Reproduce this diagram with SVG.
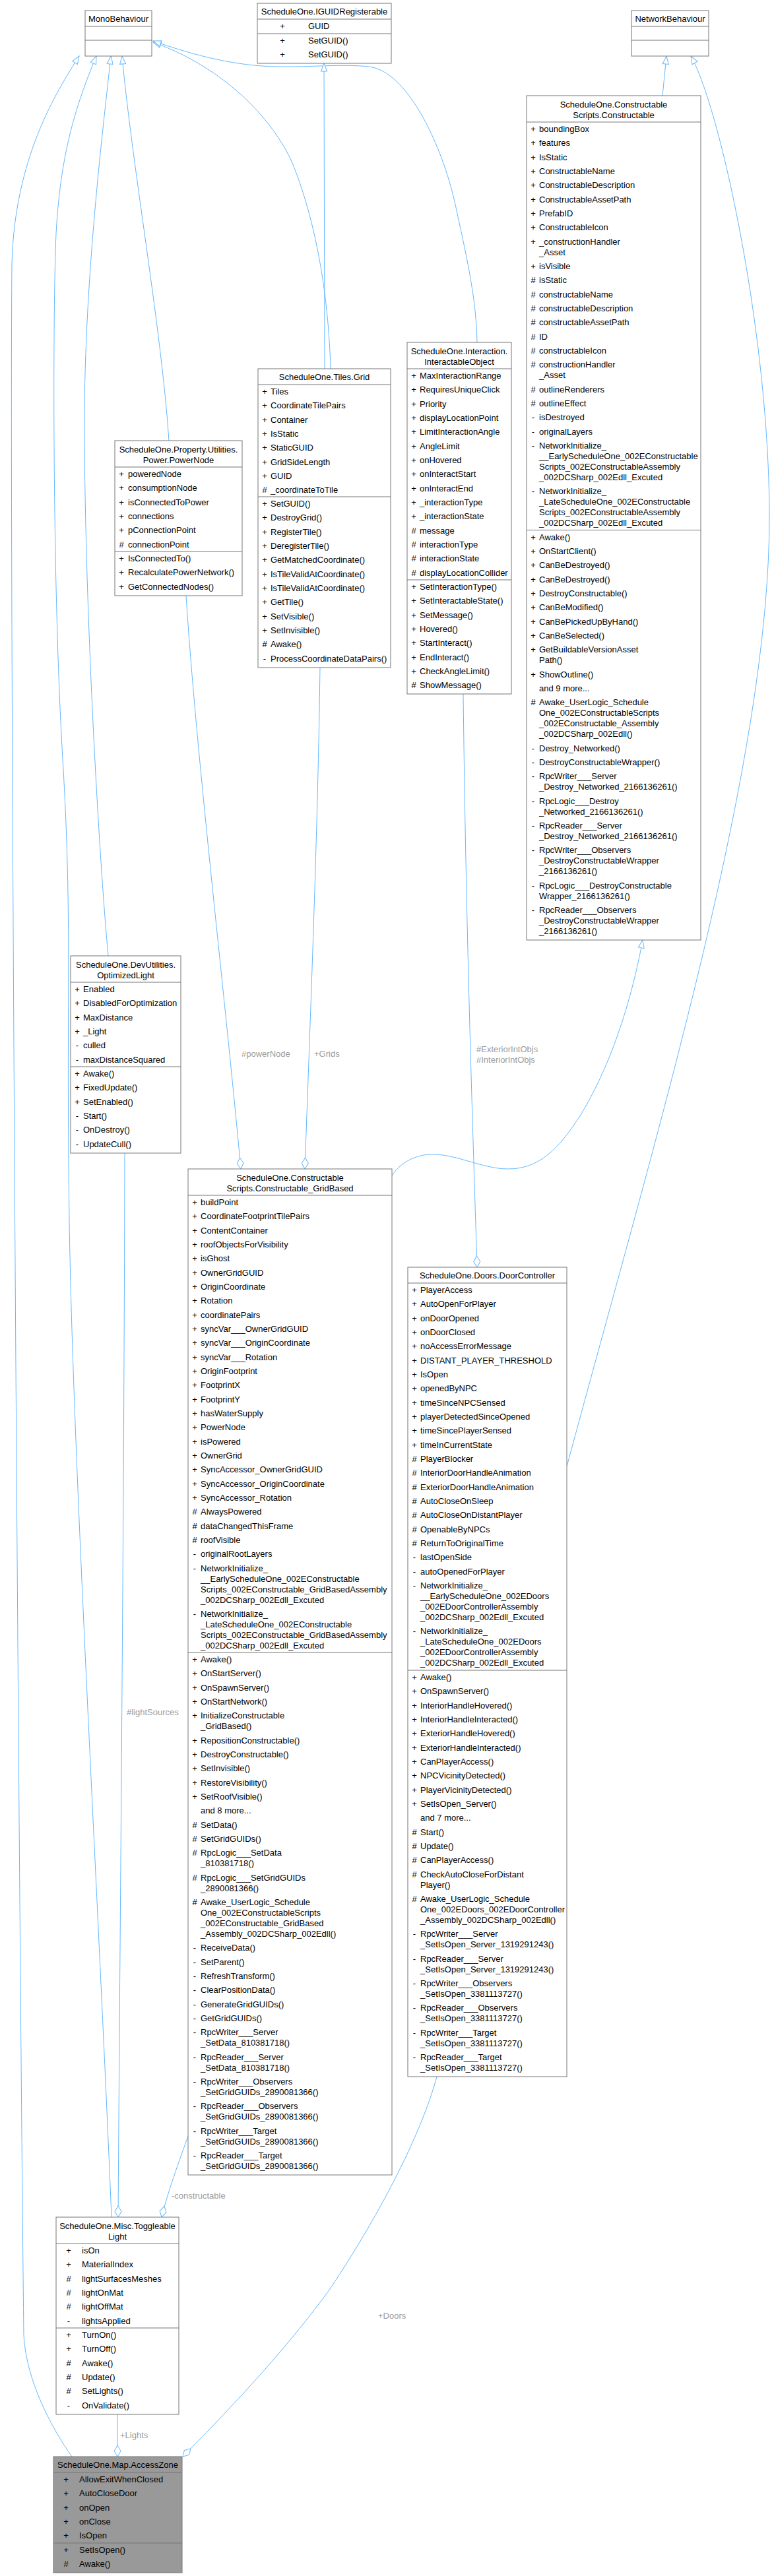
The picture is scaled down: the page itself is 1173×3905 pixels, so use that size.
<svg xmlns="http://www.w3.org/2000/svg" width="1173" height="3905" viewBox="0 0 1173 3905">
<style>
text{font-family:"Liberation Sans",Arial,Helvetica,sans-serif;font-size:13px;fill:#000}
.t,.s{text-anchor:middle}
.b{fill:#fff;stroke:#777;stroke-width:1}
.f{fill:#999;stroke:#777;stroke-width:1}
.ln{stroke:#777;stroke-width:1;fill:none}
.e{fill:none;stroke:#63b8ff;stroke-width:1}
.i{marker-start:url(#tri)}
.a{marker-end:url(#dia)}
.l{fill:#9c9c9c}
</style>
<defs>
<marker id="tri" markerUnits="userSpaceOnUse" markerWidth="14" markerHeight="11" refX="1" refY="5.5" orient="auto" overflow="visible"><path d="M1,5.5 L13,1 L13,10 Z" fill="#fff" stroke="#63b8ff"/></marker>
<marker id="dia" markerUnits="userSpaceOnUse" markerWidth="19" markerHeight="11" refX="18" refY="5.5" orient="auto" overflow="visible"><path d="M1,5.5 L9.5,0.5 L18,5.5 L9.5,10.5 Z" fill="#fff" stroke="#63b8ff"/></marker>
</defs>
<rect width="1173" height="3905" fill="#fff"/>

<g id="edges">
<path class="e i" d="M120,85 C85,140 22,240 18,400 C14,900 30,3000 36,3540 C40,3610 78,3680 109,3724"/>
<path class="e i" d="M146,85 C115,160 88,240 84,380 S80,900 95,1150 S100,1500 105,1850 S150,2900 169,3361"/>
<path class="e i" d="M168,85 C158,180 130,400 128,620 C127,900 150,1300 164,1449"/>
<path class="e i" d="M185,85 C200,250 245,500 256,668"/>
<path class="e i" d="M232,64 C320,95 400,160 440,240 C470,310 497,420 501,559"/>
<path class="e i" d="M232,62 C300,86 360,100 420,101 C470,102 530,96 565,102 C620,115 670,220 690,310 C705,380 722,450 723,519"/>
<path class="e i" d="M491,96 L492,559"/>
<path class="e i" d="M1010,85 L1004,145"/>
<path class="e i" d="M1047,85 C1090,160 1165,500 1166,780 C1167,1150 1000,1700 859,2223"/>
<path class="e i" d="M974,1425 C962,1490 935,1600 880,1690 C845,1745 815,1772 770,1772 C730,1772 690,1748 650,1750 C625,1752 605,1765 594,1782"/>
<path class="e a" d="M702,1052 C706,1400 716,1700 723,1921"/>
<path class="e a" d="M282,903 C298,1150 340,1500 365,1772"/>
<path class="e a" d="M485,1012 C482,1250 470,1550 462,1772"/>
<path class="e a" d="M189,1748 C188,2300 182,2900 179,3361"/>
<path class="e a" d="M285,3238 C272,3275 255,3320 245,3361"/>
<path class="e a" d="M178,3660 L178,3724"/>
<path class="e a" d="M662,3148 C640,3230 580,3350 500,3470 C420,3580 320,3680 277,3724"/>
<text class="l" x="366" y="1602">#powerNode</text>
<text class="l" x="476" y="1602">+Grids</text>
<text class="l" x="722" y="1595">#ExteriorIntObjs</text>
<text class="l" x="722" y="1611">#InteriorIntObjs</text>
<text class="l" x="192" y="2600">#lightSources</text>
<text class="l" x="260" y="3333">-constructable</text>
<text class="l" x="182" y="3696">+Lights</text>
<text class="l" x="573" y="3515">+Doors</text>
</g>

<g id="MonoBehaviour">
<rect class="b" x="129" y="16" width="101" height="69"/>
<path class="ln" d="M129,40 H230 M129,61 H230"/>
<text class="t" x="179.5" y="32.5">MonoBehaviour</text>
</g>

<g id="NetworkBehaviour">
<rect class="b" x="957" y="16" width="117" height="69"/>
<path class="ln" d="M957,40 H1074 M957,61 H1074"/>
<text class="t" x="1015.5" y="32.5">NetworkBehaviour</text>
</g>

<g id="IGUIDRegisterable">
<rect class="b" x="390" y="5" width="203" height="91"/>
<path class="ln" d="M390,29 H593 M390,51 H593"/>
<text class="t" x="491.5" y="21.5">ScheduleOne.IGUIDRegisterable</text>
<text class="s" x="428" y="43.5">+</text><text x="467" y="43.5">GUID</text>
<text class="s" x="428" y="65.5">+</text><text x="467" y="65.5">SetGUID()</text>
<text class="s" x="428" y="86.5">+</text><text x="467" y="86.5">SetGUID()</text>
</g>

<g id="Constructable">
<rect class="b" x="798" y="145" width="264" height="1280"/>
<path class="ln" d="M798,185 H1062 M798,803.6 H1062"/>
<text class="t" x="930" y="162.5">ScheduleOne.Constructable</text>
<text class="t" x="930" y="178.5">Scripts.Constructable</text>
<text class="s" x="808" y="200">+</text><text x="817" y="200">boundingBox</text>
<text class="s" x="808" y="221.3">+</text><text x="817" y="221.3">features</text>
<text class="s" x="808" y="242.7">+</text><text x="817" y="242.7">IsStatic</text>
<text class="s" x="808" y="264">+</text><text x="817" y="264">ConstructableName</text>
<text class="s" x="808" y="285.3">+</text><text x="817" y="285.3">ConstructableDescription</text>
<text class="s" x="808" y="306.7">+</text><text x="817" y="306.7">ConstructableAssetPath</text>
<text class="s" x="808" y="328">+</text><text x="817" y="328">PrefabID</text>
<text class="s" x="808" y="349.3">+</text><text x="817" y="349.3">ConstructableIcon</text>
<text class="s" x="808" y="370.7">+</text><text x="817" y="370.7">_constructionHandler<tspan x="817" dy="16">_Asset</tspan></text>
<text class="s" x="808" y="408">+</text><text x="817" y="408">isVisible</text>
<text class="s" x="808" y="429.3">#</text><text x="817" y="429.3">isStatic</text>
<text class="s" x="808" y="450.7">#</text><text x="817" y="450.7">constructableName</text>
<text class="s" x="808" y="472">#</text><text x="817" y="472">constructableDescription</text>
<text class="s" x="808" y="493.3">#</text><text x="817" y="493.3">constructableAssetPath</text>
<text class="s" x="808" y="514.7">#</text><text x="817" y="514.7">ID</text>
<text class="s" x="808" y="536">#</text><text x="817" y="536">constructableIcon</text>
<text class="s" x="808" y="557.3">#</text><text x="817" y="557.3">constructionHandler<tspan x="817" dy="16">_Asset</tspan></text>
<text class="s" x="808" y="594.7">#</text><text x="817" y="594.7">outlineRenderers</text>
<text class="s" x="808" y="616">#</text><text x="817" y="616">outlineEffect</text>
<text class="s" x="808" y="637.3">-</text><text x="817" y="637.3">isDestroyed</text>
<text class="s" x="808" y="658.7">-</text><text x="817" y="658.7">originalLayers</text>
<text class="s" x="808" y="680">-</text><text x="817" y="680">NetworkInitialize_<tspan x="817" dy="16">__EarlyScheduleOne_002EConstructable</tspan><tspan x="817" dy="16">Scripts_002EConstructableAssembly</tspan><tspan x="817" dy="16">_002DCSharp_002Edll_Excuted</tspan></text>
<text class="s" x="808" y="749.3">-</text><text x="817" y="749.3">NetworkInitialize_<tspan x="817" dy="16">_LateScheduleOne_002EConstructable</tspan><tspan x="817" dy="16">Scripts_002EConstructableAssembly</tspan><tspan x="817" dy="16">_002DCSharp_002Edll_Excuted</tspan></text>
<text class="s" x="808" y="818.6">+</text><text x="817" y="818.6">Awake()</text>
<text class="s" x="808" y="840">+</text><text x="817" y="840">OnStartClient()</text>
<text class="s" x="808" y="861.3">+</text><text x="817" y="861.3">CanBeDestroyed()</text>
<text class="s" x="808" y="882.6">+</text><text x="817" y="882.6">CanBeDestroyed()</text>
<text class="s" x="808" y="904">+</text><text x="817" y="904">DestroyConstructable()</text>
<text class="s" x="808" y="925.3">+</text><text x="817" y="925.3">CanBeModified()</text>
<text class="s" x="808" y="946.6">+</text><text x="817" y="946.6">CanBePickedUpByHand()</text>
<text class="s" x="808" y="968">+</text><text x="817" y="968">CanBeSelected()</text>
<text class="s" x="808" y="989.3">+</text><text x="817" y="989.3">GetBuildableVersionAsset<tspan x="817" dy="16">Path()</tspan></text>
<text class="s" x="808" y="1026.6">+</text><text x="817" y="1026.6">ShowOutline()</text>
<text x="817" y="1048">and 9 more...</text>
<text class="s" x="808" y="1069.3">#</text><text x="817" y="1069.3">Awake_UserLogic_Schedule<tspan x="817" dy="16">One_002EConstructableScripts</tspan><tspan x="817" dy="16">_002EConstructable_Assembly</tspan><tspan x="817" dy="16">_002DCSharp_002Edll()</tspan></text>
<text class="s" x="808" y="1138.6">-</text><text x="817" y="1138.6">Destroy_Networked()</text>
<text class="s" x="808" y="1160">-</text><text x="817" y="1160">DestroyConstructableWrapper()</text>
<text class="s" x="808" y="1181.3">-</text><text x="817" y="1181.3">RpcWriter___Server<tspan x="817" dy="16">_Destroy_Networked_2166136261()</tspan></text>
<text class="s" x="808" y="1218.6">-</text><text x="817" y="1218.6">RpcLogic___Destroy<tspan x="817" dy="16">_Networked_2166136261()</tspan></text>
<text class="s" x="808" y="1256">-</text><text x="817" y="1256">RpcReader___Server<tspan x="817" dy="16">_Destroy_Networked_2166136261()</tspan></text>
<text class="s" x="808" y="1293.3">-</text><text x="817" y="1293.3">RpcWriter___Observers<tspan x="817" dy="16">_DestroyConstructableWrapper</tspan><tspan x="817" dy="16">_2166136261()</tspan></text>
<text class="s" x="808" y="1346.6">-</text><text x="817" y="1346.6">RpcLogic___DestroyConstructable<tspan x="817" dy="16">Wrapper_2166136261()</tspan></text>
<text class="s" x="808" y="1384">-</text><text x="817" y="1384">RpcReader___Observers<tspan x="817" dy="16">_DestroyConstructableWrapper</tspan><tspan x="817" dy="16">_2166136261()</tspan></text>
</g>

<g id="InteractableObject">
<rect class="b" x="617" y="519" width="158" height="533"/>
<path class="ln" d="M617,559 H775 M617,879 H775"/>
<text class="t" x="696" y="536.5">ScheduleOne.Interaction.</text>
<text class="t" x="696" y="552.5">InteractableObject</text>
<text class="s" x="627" y="574">+</text><text x="636" y="574">MaxInteractionRange</text>
<text class="s" x="627" y="595.3">+</text><text x="636" y="595.3">RequiresUniqueClick</text>
<text class="s" x="627" y="616.7">+</text><text x="636" y="616.7">Priority</text>
<text class="s" x="627" y="638">+</text><text x="636" y="638">displayLocationPoint</text>
<text class="s" x="627" y="659.3">+</text><text x="636" y="659.3">LimitInteractionAngle</text>
<text class="s" x="627" y="680.7">+</text><text x="636" y="680.7">AngleLimit</text>
<text class="s" x="627" y="702">+</text><text x="636" y="702">onHovered</text>
<text class="s" x="627" y="723.3">+</text><text x="636" y="723.3">onInteractStart</text>
<text class="s" x="627" y="744.7">+</text><text x="636" y="744.7">onInteractEnd</text>
<text class="s" x="627" y="766">+</text><text x="636" y="766">_interactionType</text>
<text class="s" x="627" y="787.3">+</text><text x="636" y="787.3">_interactionState</text>
<text class="s" x="627" y="808.7">#</text><text x="636" y="808.7">message</text>
<text class="s" x="627" y="830">#</text><text x="636" y="830">interactionType</text>
<text class="s" x="627" y="851.3">#</text><text x="636" y="851.3">interactionState</text>
<text class="s" x="627" y="872.7">#</text><text x="636" y="872.7">displayLocationCollider</text>
<text class="s" x="627" y="894">+</text><text x="636" y="894">SetInteractionType()</text>
<text class="s" x="627" y="915.3">+</text><text x="636" y="915.3">SetInteractableState()</text>
<text class="s" x="627" y="936.7">+</text><text x="636" y="936.7">SetMessage()</text>
<text class="s" x="627" y="958">+</text><text x="636" y="958">Hovered()</text>
<text class="s" x="627" y="979.3">+</text><text x="636" y="979.3">StartInteract()</text>
<text class="s" x="627" y="1000.7">+</text><text x="636" y="1000.7">EndInteract()</text>
<text class="s" x="627" y="1022">+</text><text x="636" y="1022">CheckAngleLimit()</text>
<text class="s" x="627" y="1043.3">#</text><text x="636" y="1043.3">ShowMessage()</text>
</g>

<g id="Grid">
<rect class="b" x="391" y="559" width="201" height="453"/>
<path class="ln" d="M391,583 H592 M391,753 H592"/>
<text class="t" x="491.5" y="575.5">ScheduleOne.Tiles.Grid</text>
<text class="s" x="401" y="598">+</text><text x="410" y="598">Tiles</text>
<text class="s" x="401" y="619.3">+</text><text x="410" y="619.3">CoordinateTilePairs</text>
<text class="s" x="401" y="640.7">+</text><text x="410" y="640.7">Container</text>
<text class="s" x="401" y="662">+</text><text x="410" y="662">IsStatic</text>
<text class="s" x="401" y="683.3">+</text><text x="410" y="683.3">StaticGUID</text>
<text class="s" x="401" y="704.7">+</text><text x="410" y="704.7">GridSideLength</text>
<text class="s" x="401" y="726">+</text><text x="410" y="726">GUID</text>
<text class="s" x="401" y="747.3">#</text><text x="410" y="747.3">_coordinateToTile</text>
<text class="s" x="401" y="768">+</text><text x="410" y="768">SetGUID()</text>
<text class="s" x="401" y="789.3">+</text><text x="410" y="789.3">DestroyGrid()</text>
<text class="s" x="401" y="810.7">+</text><text x="410" y="810.7">RegisterTile()</text>
<text class="s" x="401" y="832">+</text><text x="410" y="832">DeregisterTile()</text>
<text class="s" x="401" y="853.3">+</text><text x="410" y="853.3">GetMatchedCoordinate()</text>
<text class="s" x="401" y="874.7">+</text><text x="410" y="874.7">IsTileValidAtCoordinate()</text>
<text class="s" x="401" y="896">+</text><text x="410" y="896">IsTileValidAtCoordinate()</text>
<text class="s" x="401" y="917.3">+</text><text x="410" y="917.3">GetTile()</text>
<text class="s" x="401" y="938.7">+</text><text x="410" y="938.7">SetVisible()</text>
<text class="s" x="401" y="960">+</text><text x="410" y="960">SetInvisible()</text>
<text class="s" x="401" y="981.3">#</text><text x="410" y="981.3">Awake()</text>
<text class="s" x="401" y="1002.7">-</text><text x="410" y="1002.7">ProcessCoordinateDataPairs()</text>
</g>

<g id="PowerNode">
<rect class="b" x="174" y="668" width="193" height="235"/>
<path class="ln" d="M174,708 H367 M174,836 H367"/>
<text class="t" x="270.5" y="685.5">ScheduleOne.Property.Utilities.</text>
<text class="t" x="270.5" y="701.5">Power.PowerNode</text>
<text class="s" x="184" y="723">+</text><text x="194" y="723">poweredNode</text>
<text class="s" x="184" y="744.3">+</text><text x="194" y="744.3">consumptionNode</text>
<text class="s" x="184" y="765.7">+</text><text x="194" y="765.7">isConnectedToPower</text>
<text class="s" x="184" y="787">+</text><text x="194" y="787">connections</text>
<text class="s" x="184" y="808.3">+</text><text x="194" y="808.3">pConnectionPoint</text>
<text class="s" x="184" y="829.7">#</text><text x="194" y="829.7">connectionPoint</text>
<text class="s" x="184" y="851">+</text><text x="194" y="851">IsConnectedTo()</text>
<text class="s" x="184" y="872.3">+</text><text x="194" y="872.3">RecalculatePowerNetwork()</text>
<text class="s" x="184" y="893.7">+</text><text x="194" y="893.7">GetConnectedNodes()</text>
</g>

<g id="OptimizedLight">
<rect class="b" x="107" y="1449" width="167" height="299"/>
<path class="ln" d="M107,1489 H274 M107,1617 H274"/>
<text class="t" x="190.5" y="1466.5">ScheduleOne.DevUtilities.</text>
<text class="t" x="190.5" y="1482.5">OptimizedLight</text>
<text class="s" x="117" y="1504">+</text><text x="126" y="1504">Enabled</text>
<text class="s" x="117" y="1525.3">+</text><text x="126" y="1525.3">DisabledForOptimization</text>
<text class="s" x="117" y="1546.7">+</text><text x="126" y="1546.7">MaxDistance</text>
<text class="s" x="117" y="1568">+</text><text x="126" y="1568">_Light</text>
<text class="s" x="117" y="1589.3">-</text><text x="126" y="1589.3">culled</text>
<text class="s" x="117" y="1610.7">-</text><text x="126" y="1610.7">maxDistanceSquared</text>
<text class="s" x="117" y="1632">+</text><text x="126" y="1632">Awake()</text>
<text class="s" x="117" y="1653.3">+</text><text x="126" y="1653.3">FixedUpdate()</text>
<text class="s" x="117" y="1674.7">+</text><text x="126" y="1674.7">SetEnabled()</text>
<text class="s" x="117" y="1696">-</text><text x="126" y="1696">Start()</text>
<text class="s" x="117" y="1717.3">-</text><text x="126" y="1717.3">OnDestroy()</text>
<text class="s" x="117" y="1738.7">-</text><text x="126" y="1738.7">UpdateCull()</text>
</g>

<g id="Constructable_GridBased">
<rect class="b" x="285" y="1772" width="309" height="1525"/>
<path class="ln" d="M285,1812 H594 M285,2505 H594"/>
<text class="t" x="439.5" y="1789.5">ScheduleOne.Constructable</text>
<text class="t" x="439.5" y="1805.5">Scripts.Constructable_GridBased</text>
<text class="s" x="295" y="1827">+</text><text x="304" y="1827">buildPoint</text>
<text class="s" x="295" y="1848.3">+</text><text x="304" y="1848.3">CoordinateFootprintTilePairs</text>
<text class="s" x="295" y="1869.7">+</text><text x="304" y="1869.7">ContentContainer</text>
<text class="s" x="295" y="1891">+</text><text x="304" y="1891">roofObjectsForVisibility</text>
<text class="s" x="295" y="1912.3">+</text><text x="304" y="1912.3">isGhost</text>
<text class="s" x="295" y="1933.7">+</text><text x="304" y="1933.7">OwnerGridGUID</text>
<text class="s" x="295" y="1955">+</text><text x="304" y="1955">OriginCoordinate</text>
<text class="s" x="295" y="1976.3">+</text><text x="304" y="1976.3">Rotation</text>
<text class="s" x="295" y="1997.7">+</text><text x="304" y="1997.7">coordinatePairs</text>
<text class="s" x="295" y="2019">+</text><text x="304" y="2019">syncVar___OwnerGridGUID</text>
<text class="s" x="295" y="2040.3">+</text><text x="304" y="2040.3">syncVar___OriginCoordinate</text>
<text class="s" x="295" y="2061.7">+</text><text x="304" y="2061.7">syncVar___Rotation</text>
<text class="s" x="295" y="2083">+</text><text x="304" y="2083">OriginFootprint</text>
<text class="s" x="295" y="2104.3">+</text><text x="304" y="2104.3">FootprintX</text>
<text class="s" x="295" y="2125.7">+</text><text x="304" y="2125.7">FootprintY</text>
<text class="s" x="295" y="2147">+</text><text x="304" y="2147">hasWaterSupply</text>
<text class="s" x="295" y="2168.3">+</text><text x="304" y="2168.3">PowerNode</text>
<text class="s" x="295" y="2189.7">+</text><text x="304" y="2189.7">isPowered</text>
<text class="s" x="295" y="2211">+</text><text x="304" y="2211">OwnerGrid</text>
<text class="s" x="295" y="2232.3">+</text><text x="304" y="2232.3">SyncAccessor_OwnerGridGUID</text>
<text class="s" x="295" y="2253.7">+</text><text x="304" y="2253.7">SyncAccessor_OriginCoordinate</text>
<text class="s" x="295" y="2275">+</text><text x="304" y="2275">SyncAccessor_Rotation</text>
<text class="s" x="295" y="2296.3">#</text><text x="304" y="2296.3">AlwaysPowered</text>
<text class="s" x="295" y="2317.7">#</text><text x="304" y="2317.7">dataChangedThisFrame</text>
<text class="s" x="295" y="2339">#</text><text x="304" y="2339">roofVisible</text>
<text class="s" x="295" y="2360.3">-</text><text x="304" y="2360.3">originalRootLayers</text>
<text class="s" x="295" y="2381.7">-</text><text x="304" y="2381.7">NetworkInitialize_<tspan x="304" dy="16">__EarlyScheduleOne_002EConstructable</tspan><tspan x="304" dy="16">Scripts_002EConstructable_GridBasedAssembly</tspan><tspan x="304" dy="16">_002DCSharp_002Edll_Excuted</tspan></text>
<text class="s" x="295" y="2451">-</text><text x="304" y="2451">NetworkInitialize_<tspan x="304" dy="16">_LateScheduleOne_002EConstructable</tspan><tspan x="304" dy="16">Scripts_002EConstructable_GridBasedAssembly</tspan><tspan x="304" dy="16">_002DCSharp_002Edll_Excuted</tspan></text>
<text class="s" x="295" y="2520">+</text><text x="304" y="2520">Awake()</text>
<text class="s" x="295" y="2541.3">+</text><text x="304" y="2541.3">OnStartServer()</text>
<text class="s" x="295" y="2562.7">+</text><text x="304" y="2562.7">OnSpawnServer()</text>
<text class="s" x="295" y="2584">+</text><text x="304" y="2584">OnStartNetwork()</text>
<text class="s" x="295" y="2605.3">+</text><text x="304" y="2605.3">InitializeConstructable<tspan x="304" dy="16">_GridBased()</tspan></text>
<text class="s" x="295" y="2642.7">+</text><text x="304" y="2642.7">RepositionConstructable()</text>
<text class="s" x="295" y="2664">+</text><text x="304" y="2664">DestroyConstructable()</text>
<text class="s" x="295" y="2685.3">+</text><text x="304" y="2685.3">SetInvisible()</text>
<text class="s" x="295" y="2706.7">+</text><text x="304" y="2706.7">RestoreVisibility()</text>
<text class="s" x="295" y="2728">+</text><text x="304" y="2728">SetRoofVisible()</text>
<text x="304" y="2749.3">and 8 more...</text>
<text class="s" x="295" y="2770.7">#</text><text x="304" y="2770.7">SetData()</text>
<text class="s" x="295" y="2792">#</text><text x="304" y="2792">SetGridGUIDs()</text>
<text class="s" x="295" y="2813.3">#</text><text x="304" y="2813.3">RpcLogic___SetData<tspan x="304" dy="16">_810381718()</tspan></text>
<text class="s" x="295" y="2850.7">#</text><text x="304" y="2850.7">RpcLogic___SetGridGUIDs<tspan x="304" dy="16">_2890081366()</tspan></text>
<text class="s" x="295" y="2888">#</text><text x="304" y="2888">Awake_UserLogic_Schedule<tspan x="304" dy="16">One_002EConstructableScripts</tspan><tspan x="304" dy="16">_002EConstructable_GridBased</tspan><tspan x="304" dy="16">_Assembly_002DCSharp_002Edll()</tspan></text>
<text class="s" x="295" y="2957.3">-</text><text x="304" y="2957.3">ReceiveData()</text>
<text class="s" x="295" y="2978.7">-</text><text x="304" y="2978.7">SetParent()</text>
<text class="s" x="295" y="3000">-</text><text x="304" y="3000">RefreshTransform()</text>
<text class="s" x="295" y="3021.3">-</text><text x="304" y="3021.3">ClearPositionData()</text>
<text class="s" x="295" y="3042.7">-</text><text x="304" y="3042.7">GenerateGridGUIDs()</text>
<text class="s" x="295" y="3064">-</text><text x="304" y="3064">GetGridGUIDs()</text>
<text class="s" x="295" y="3085.3">-</text><text x="304" y="3085.3">RpcWriter___Server<tspan x="304" dy="16">_SetData_810381718()</tspan></text>
<text class="s" x="295" y="3122.7">-</text><text x="304" y="3122.7">RpcReader___Server<tspan x="304" dy="16">_SetData_810381718()</tspan></text>
<text class="s" x="295" y="3160">-</text><text x="304" y="3160">RpcWriter___Observers<tspan x="304" dy="16">_SetGridGUIDs_2890081366()</tspan></text>
<text class="s" x="295" y="3197.3">-</text><text x="304" y="3197.3">RpcReader___Observers<tspan x="304" dy="16">_SetGridGUIDs_2890081366()</tspan></text>
<text class="s" x="295" y="3234.7">-</text><text x="304" y="3234.7">RpcWriter___Target<tspan x="304" dy="16">_SetGridGUIDs_2890081366()</tspan></text>
<text class="s" x="295" y="3272">-</text><text x="304" y="3272">RpcReader___Target<tspan x="304" dy="16">_SetGridGUIDs_2890081366()</tspan></text>
</g>

<g id="DoorController">
<rect class="b" x="618" y="1921" width="241" height="1227"/>
<path class="ln" d="M618,1945 H859 M618,2532 H859"/>
<text class="t" x="738.5" y="1937.5">ScheduleOne.Doors.DoorController</text>
<text class="s" x="628" y="1960">+</text><text x="637" y="1960">PlayerAccess</text>
<text class="s" x="628" y="1981.3">+</text><text x="637" y="1981.3">AutoOpenForPlayer</text>
<text class="s" x="628" y="2002.7">+</text><text x="637" y="2002.7">onDoorOpened</text>
<text class="s" x="628" y="2024">+</text><text x="637" y="2024">onDoorClosed</text>
<text class="s" x="628" y="2045.3">+</text><text x="637" y="2045.3">noAccessErrorMessage</text>
<text class="s" x="628" y="2066.7">+</text><text x="637" y="2066.7">DISTANT_PLAYER_THRESHOLD</text>
<text class="s" x="628" y="2088">+</text><text x="637" y="2088">IsOpen</text>
<text class="s" x="628" y="2109.3">+</text><text x="637" y="2109.3">openedByNPC</text>
<text class="s" x="628" y="2130.7">+</text><text x="637" y="2130.7">timeSinceNPCSensed</text>
<text class="s" x="628" y="2152">+</text><text x="637" y="2152">playerDetectedSinceOpened</text>
<text class="s" x="628" y="2173.3">+</text><text x="637" y="2173.3">timeSincePlayerSensed</text>
<text class="s" x="628" y="2194.7">+</text><text x="637" y="2194.7">timeInCurrentState</text>
<text class="s" x="628" y="2216">#</text><text x="637" y="2216">PlayerBlocker</text>
<text class="s" x="628" y="2237.3">#</text><text x="637" y="2237.3">InteriorDoorHandleAnimation</text>
<text class="s" x="628" y="2258.7">#</text><text x="637" y="2258.7">ExteriorDoorHandleAnimation</text>
<text class="s" x="628" y="2280">#</text><text x="637" y="2280">AutoCloseOnSleep</text>
<text class="s" x="628" y="2301.3">#</text><text x="637" y="2301.3">AutoCloseOnDistantPlayer</text>
<text class="s" x="628" y="2322.7">#</text><text x="637" y="2322.7">OpenableByNPCs</text>
<text class="s" x="628" y="2344">#</text><text x="637" y="2344">ReturnToOriginalTime</text>
<text class="s" x="628" y="2365.3">-</text><text x="637" y="2365.3">lastOpenSide</text>
<text class="s" x="628" y="2386.7">-</text><text x="637" y="2386.7">autoOpenedForPlayer</text>
<text class="s" x="628" y="2408">-</text><text x="637" y="2408">NetworkInitialize_<tspan x="637" dy="16">__EarlyScheduleOne_002EDoors</tspan><tspan x="637" dy="16">_002EDoorControllerAssembly</tspan><tspan x="637" dy="16">_002DCSharp_002Edll_Excuted</tspan></text>
<text class="s" x="628" y="2477.3">-</text><text x="637" y="2477.3">NetworkInitialize_<tspan x="637" dy="16">_LateScheduleOne_002EDoors</tspan><tspan x="637" dy="16">_002EDoorControllerAssembly</tspan><tspan x="637" dy="16">_002DCSharp_002Edll_Excuted</tspan></text>
<text class="s" x="628" y="2547">+</text><text x="637" y="2547">Awake()</text>
<text class="s" x="628" y="2568.3">+</text><text x="637" y="2568.3">OnSpawnServer()</text>
<text class="s" x="628" y="2589.7">+</text><text x="637" y="2589.7">InteriorHandleHovered()</text>
<text class="s" x="628" y="2611">+</text><text x="637" y="2611">InteriorHandleInteracted()</text>
<text class="s" x="628" y="2632.3">+</text><text x="637" y="2632.3">ExteriorHandleHovered()</text>
<text class="s" x="628" y="2653.7">+</text><text x="637" y="2653.7">ExteriorHandleInteracted()</text>
<text class="s" x="628" y="2675">+</text><text x="637" y="2675">CanPlayerAccess()</text>
<text class="s" x="628" y="2696.3">+</text><text x="637" y="2696.3">NPCVicinityDetected()</text>
<text class="s" x="628" y="2717.7">+</text><text x="637" y="2717.7">PlayerVicinityDetected()</text>
<text class="s" x="628" y="2739">+</text><text x="637" y="2739">SetIsOpen_Server()</text>
<text x="637" y="2760.3">and 7 more...</text>
<text class="s" x="628" y="2781.7">#</text><text x="637" y="2781.7">Start()</text>
<text class="s" x="628" y="2803">#</text><text x="637" y="2803">Update()</text>
<text class="s" x="628" y="2824.3">#</text><text x="637" y="2824.3">CanPlayerAccess()</text>
<text class="s" x="628" y="2845.7">#</text><text x="637" y="2845.7">CheckAutoCloseForDistant<tspan x="637" dy="16">Player()</tspan></text>
<text class="s" x="628" y="2883">#</text><text x="637" y="2883">Awake_UserLogic_Schedule<tspan x="637" dy="16">One_002EDoors_002EDoorController</tspan><tspan x="637" dy="16">_Assembly_002DCSharp_002Edll()</tspan></text>
<text class="s" x="628" y="2936.3">-</text><text x="637" y="2936.3">RpcWriter___Server<tspan x="637" dy="16">_SetIsOpen_Server_1319291243()</tspan></text>
<text class="s" x="628" y="2973.7">-</text><text x="637" y="2973.7">RpcReader___Server<tspan x="637" dy="16">_SetIsOpen_Server_1319291243()</tspan></text>
<text class="s" x="628" y="3011">-</text><text x="637" y="3011">RpcWriter___Observers<tspan x="637" dy="16">_SetIsOpen_3381113727()</tspan></text>
<text class="s" x="628" y="3048.3">-</text><text x="637" y="3048.3">RpcReader___Observers<tspan x="637" dy="16">_SetIsOpen_3381113727()</tspan></text>
<text class="s" x="628" y="3085.7">-</text><text x="637" y="3085.7">RpcWriter___Target<tspan x="637" dy="16">_SetIsOpen_3381113727()</tspan></text>
<text class="s" x="628" y="3123">-</text><text x="637" y="3123">RpcReader___Target<tspan x="637" dy="16">_SetIsOpen_3381113727()</tspan></text>
</g>

<g id="ToggleableLight">
<rect class="b" x="85" y="3361" width="186" height="299"/>
<path class="ln" d="M85,3401 H271 M85,3529 H271"/>
<text class="t" x="178" y="3378.5">ScheduleOne.Misc.Toggleable</text>
<text class="t" x="178" y="3394.5">Light</text>
<text class="s" x="104" y="3416">+</text><text x="124" y="3416">isOn</text>
<text class="s" x="104" y="3437.3">+</text><text x="124" y="3437.3">MaterialIndex</text>
<text class="s" x="104" y="3458.7">#</text><text x="124" y="3458.7">lightSurfacesMeshes</text>
<text class="s" x="104" y="3480">#</text><text x="124" y="3480">lightOnMat</text>
<text class="s" x="104" y="3501.3">#</text><text x="124" y="3501.3">lightOffMat</text>
<text class="s" x="104" y="3522.7">-</text><text x="124" y="3522.7">lightsApplied</text>
<text class="s" x="104" y="3544">+</text><text x="124" y="3544">TurnOn()</text>
<text class="s" x="104" y="3565.3">+</text><text x="124" y="3565.3">TurnOff()</text>
<text class="s" x="104" y="3586.7">#</text><text x="124" y="3586.7">Awake()</text>
<text class="s" x="104" y="3608">#</text><text x="124" y="3608">Update()</text>
<text class="s" x="104" y="3629.3">#</text><text x="124" y="3629.3">SetLights()</text>
<text class="s" x="104" y="3650.7">-</text><text x="124" y="3650.7">OnValidate()</text>
</g>

<g id="AccessZone">
<rect class="f" x="81" y="3724" width="195" height="176"/>
<path class="ln" d="M81,3748 H276 M81,3855 H276"/>
<text class="t" x="178.5" y="3740.5">ScheduleOne.Map.AccessZone</text>
<text class="s" x="100" y="3763">+</text><text x="120" y="3763">AllowExitWhenClosed</text>
<text class="s" x="100" y="3784.3">+</text><text x="120" y="3784.3">AutoCloseDoor</text>
<text class="s" x="100" y="3805.7">+</text><text x="120" y="3805.7">onOpen</text>
<text class="s" x="100" y="3827">+</text><text x="120" y="3827">onClose</text>
<text class="s" x="100" y="3848.3">+</text><text x="120" y="3848.3">IsOpen</text>
<text class="s" x="100" y="3870">+</text><text x="120" y="3870">SetIsOpen()</text>
<text class="s" x="100" y="3891.3">#</text><text x="120" y="3891.3">Awake()</text>
</g>
</svg>
